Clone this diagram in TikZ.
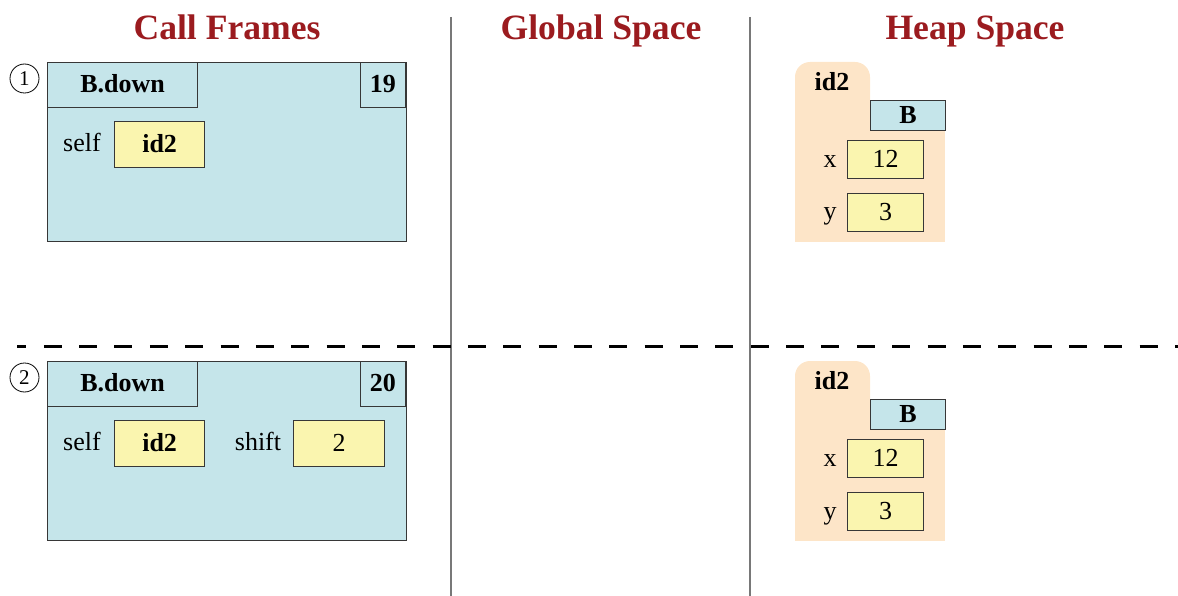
\documentclass[tikz,border=0pt]{standalone}
\usepackage{fontspec}
\setmainfont{Liberation Serif}
\definecolor{titlered}{RGB}{155,27,31}
\definecolor{frameblue}{RGB}{197,229,234}
\definecolor{valyellow}{RGB}{250,245,175}
\definecolor{heappeach}{RGB}{253,229,200}
\definecolor{bordc}{RGB}{55,55,55}
\definecolor{divgray}{RGB}{120,120,120}
\begin{document}
\begin{tikzpicture}[x=1pt,y=-1pt,
  title/.style={text=titlered, font=\fontsize{35.6}{40}\selectfont\bfseries, inner sep=0, anchor=base},
  framebox/.style={draw=bordc, fill=frameblue, line width=1.3pt, inner sep=0, anchor=north west},
  hdrbox/.style={draw=bordc, fill=frameblue, line width=1.3pt, inner sep=0, text height=17pt, text depth=1.6pt, font=\fontsize{26}{30}\selectfont\bfseries},
  valbox/.style={draw=bordc, fill=valyellow, line width=1.3pt, inner sep=0, text height=17pt, text depth=1.6pt, anchor=north west, font=\fontsize{26}{30}\selectfont},
  lbl/.style={inner sep=0, anchor=base, font=\fontsize{26}{30}\selectfont},
  stepnum/.style={circle, draw=black, line width=0.8pt, minimum size=29pt, inner sep=0, font=\fontsize{21}{21}\selectfont},
  divider/.style={draw=divgray, line width=1.4pt}
]
\useasboundingbox (0,0) rectangle (1178,596);

% titles
\node[title] (t1) at (227,39.5) {Call Frames};
\node[title] (t2) at (601,39.5) {Global Space};
\node[title] (t3) at (975,39.5) {Heap Space};

% dividers
\coordinate (v1top) at (451,17);
\coordinate (v1bot) at (451,596);
\coordinate (v2top) at (750,17);
\coordinate (v2bot) at (750,596);
\draw[divider] (v1top) -- (v1bot);
\draw[divider] (v2top) -- (v2bot);
\coordinate (hl) at (17,346.5);
\coordinate (hr) at (1178,346.5);
\draw[line width=3.3pt, dash pattern=on 18pt off 17.35pt, dash phase=8.6pt] (hl) -- (hr);

% ---------- step 1 ----------
\node[stepnum] (s1) at (24.5,78.5) {1};
\node[framebox, minimum width=359pt, minimum height=179pt] (f1) at (47,62) {};
\node[hdrbox, minimum width=150pt, minimum height=45pt, anchor=north west] (f1name) at (47,62) {B.down};
\node[hdrbox, minimum width=45pt, minimum height=45pt, anchor=north east] (f1line) at (406,62) {19};
\node[lbl] (f1selfl) at (82,151.7) {self};
\node[valbox, minimum width=90pt, minimum height=46pt, font=\fontsize{26}{30}\selectfont\bfseries] (f1self) at (114,121) {id2};

\fill[heappeach, rounded corners=15pt] (795,62) rectangle (870,125);
\fill[heappeach] (795,100) rectangle (945,242);
\node[lbl, font=\fontsize{26}{30}\selectfont\bfseries] (h1id) at (832,90.7) {id2};
\node[hdrbox, minimum width=75pt, minimum height=30pt, anchor=north west] (h1cls) at (870,100) {B};
\node[lbl] (h1xl) at (830,167.3) {x};
\node[valbox, minimum width=76pt, minimum height=38pt] (h1x) at (847,140) {12};
\node[lbl] (h1yl) at (830,220) {y};
\node[valbox, minimum width=76pt, minimum height=38pt] (h1y) at (847,193) {3};

% ---------- step 2 ----------
\node[stepnum] (s2) at (24.5,377.5) {2};
\node[framebox, minimum width=359pt, minimum height=179pt] (f2) at (47,361) {};
\node[hdrbox, minimum width=150pt, minimum height=45pt, anchor=north west] (f2name) at (47,361) {B.down};
\node[hdrbox, minimum width=45pt, minimum height=45pt, anchor=north east] (f2line) at (406,361) {20};
\node[lbl] (f2selfl) at (82,450.7) {self};
\node[valbox, minimum width=90pt, minimum height=46pt, font=\fontsize{26}{30}\selectfont\bfseries] (f2self) at (114,420) {id2};
\node[lbl] (f2shiftl) at (258,450.7) {shift};
\node[valbox, minimum width=91pt, minimum height=46pt] (f2shift) at (293,420) {2};

\fill[heappeach, rounded corners=15pt] (795,361) rectangle (870,424);
\fill[heappeach] (795,399) rectangle (945,541);
\node[lbl, font=\fontsize{26}{30}\selectfont\bfseries] (h2id) at (832,389.7) {id2};
\node[hdrbox, minimum width=75pt, minimum height=30pt, anchor=north west] (h2cls) at (870,399) {B};
\node[lbl] (h2xl) at (830,466.3) {x};
\node[valbox, minimum width=76pt, minimum height=38pt] (h2x) at (847,439) {12};
\node[lbl] (h2yl) at (830,519) {y};
\node[valbox, minimum width=76pt, minimum height=38pt] (h2y) at (847,492) {3};
\end{tikzpicture}
\end{document}
